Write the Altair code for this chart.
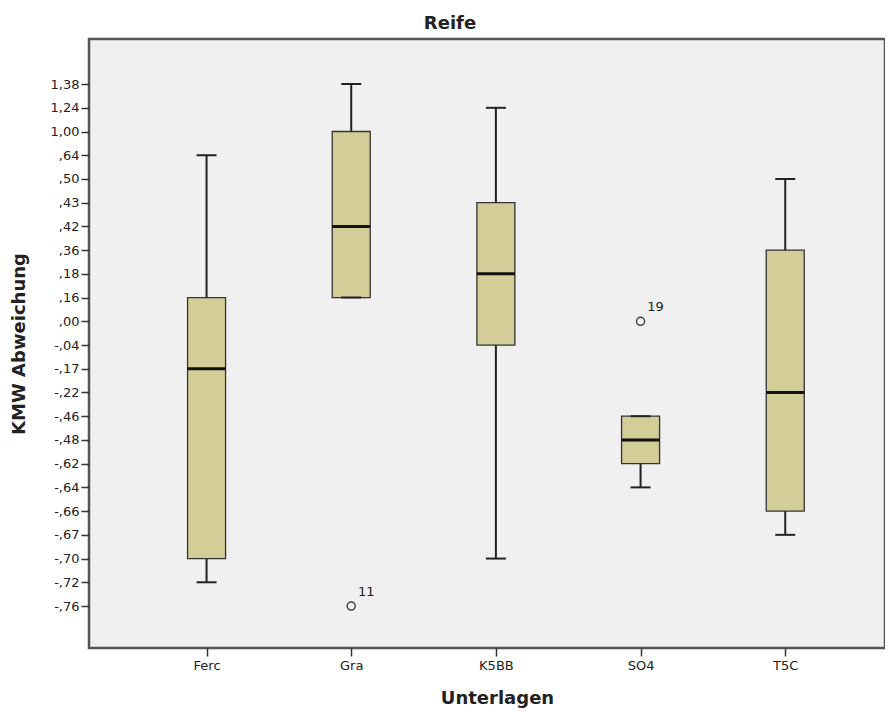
import altair as alt
import pandas as pd

# Ordinal tick labels of the y axis (SPSS treated the values as categories)
y_labels = ["1,38", "1,24", "1,00", ",64", ",50", ",43", ",42", ",36", ",18", ",16",
            ",00", "-,04", "-,17", "-,22", "-,46", "-,48", "-,62", "-,64", "-,66",
            "-,67", "-,70", "-,72", "-,76"]
groups = ["Ferc", "Gra", "K5BB", "SO4", "T5C"]
whisker_low = ["-,72", ",16", "-,70", "-,64", "-,67"]
q1 = ["-,70", ",16", "-,04", "-,62", "-,66"]
median = ["-,17", ",42", ",18", "-,48", "-,22"]
q3 = [",16", "1,00", ",43", "-,46", ",36"]
whisker_high = [",64", "1,38", "1,24", "-,46", ",50"]

outlier_group = ["Gra", "SO4"]
outlier_value = ["-,76", ",00"]
outlier_case = ["11", "19"]

rank = {lab: i for i, lab in enumerate(y_labels)}

boxes = pd.DataFrame({
    "group": groups,
    "idx": list(range(len(groups))),
    "wl": [rank[v] for v in whisker_low],
    "q1": [rank[v] for v in q1],
    "med": [rank[v] for v in median],
    "q3": [rank[v] for v in q3],
    "wh": [rank[v] for v in whisker_high],
})
outl = pd.DataFrame({
    "idx": [groups.index(g) for g in outlier_group],
    "val": [rank[v] for v in outlier_value],
    "case": outlier_case,
})

FONT = "DejaVu Sans"
label_arr = "[" + ",".join("'%s'" % l for l in y_labels) + "]"
group_arr = "[" + ",".join("'%s'" % g for g in groups) + "]"

xscale = alt.Scale(domain=[-0.778, 4.655], nice=False, zero=False)
yscale = alt.Scale(domain=[-1.9, 23.77], reverse=True, nice=False, zero=False)

x_axis = alt.Axis(values=list(range(len(groups))), tickCount=50,
                  labelExpr=group_arr + "[datum.value]",
                  title="Unterlagen", grid=False, domain=False, tickSize=8,
                  tickColor="#333", tickWidth=1.5, labelFont=FONT, labelFontSize=13,
                  labelColor="#222", labelOverlap=False, titleFont=FONT, titleFontSize=18,
                  titleFontWeight="bold", titleColor="#222", titleX=408, titleY=50,
                  titleBaseline="middle", labelPadding=3)
y_axis = alt.Axis(values=list(range(len(y_labels))), tickCount=50,
                  labelExpr=label_arr + "[datum.value]",
                  title="KMW Abweichung", grid=False, domain=False, tickSize=8,
                  tickColor="#333", tickWidth=1.5, labelFont=FONT, labelFontSize=13,
                  labelColor="#222", labelOverlap=False, titleFont=FONT, titleFontSize=18,
                  titleFontWeight="bold", titleColor="#222", titleX=-70, titleY=304.5,
                  titleAngle=-90, titleBaseline="middle", titleAlign="center",
                  labelPadding=2)

base = alt.Chart(boxes)
x_enc = alt.X("idx:Q", scale=xscale, axis=x_axis)

whisk = base.mark_rule(color="#222", strokeWidth=2).encode(
    x=x_enc, y=alt.Y("wl:Q", scale=yscale, axis=y_axis), y2="wh:Q")
box = base.mark_bar(size=38, fill="#D3CE97", stroke="#333", strokeWidth=1.3).encode(
    x="idx:Q", y="q1:Q", y2="q3:Q")
cap_lo = base.mark_tick(orient="horizontal", size=20, thickness=2, color="#222", opacity=1).encode(
    x="idx:Q", y="wl:Q")
cap_hi = base.mark_tick(orient="horizontal", size=20, thickness=2, color="#222", opacity=1).encode(
    x="idx:Q", y="wh:Q")
med = base.mark_tick(orient="horizontal", size=38, thickness=3, color="#111", opacity=1).encode(
    x="idx:Q", y="med:Q")

ob = alt.Chart(outl)
pts = ob.mark_point(shape="circle", filled=False, size=65, color="#444", strokeWidth=1.5, opacity=1).encode(
    x="idx:Q", y="val:Q")
txt = ob.mark_text(dx=15, dy=-14, font=FONT, fontSize=13, color="#222").encode(
    x="idx:Q", y="val:Q", text="case:N")

chart = alt.layer(whisk, box, cap_lo, cap_hi, med, pts, txt).properties(
    width=796, height=609,
    title=alt.TitleParams("Reife", font=FONT, fontSize=18, fontWeight="bold",
                          color="#222", dx=-37, offset=6),
    autosize=alt.AutoSizeParams(type="none"),
    padding={"left": 81, "top": 31, "right": 0, "bottom": 62},
    background="white",
).configure_view(fill="#F0F0F0", stroke="#555", strokeWidth=2.5)

chart.save("out.html", embed_options={"renderer": "svg", "actions": False})
